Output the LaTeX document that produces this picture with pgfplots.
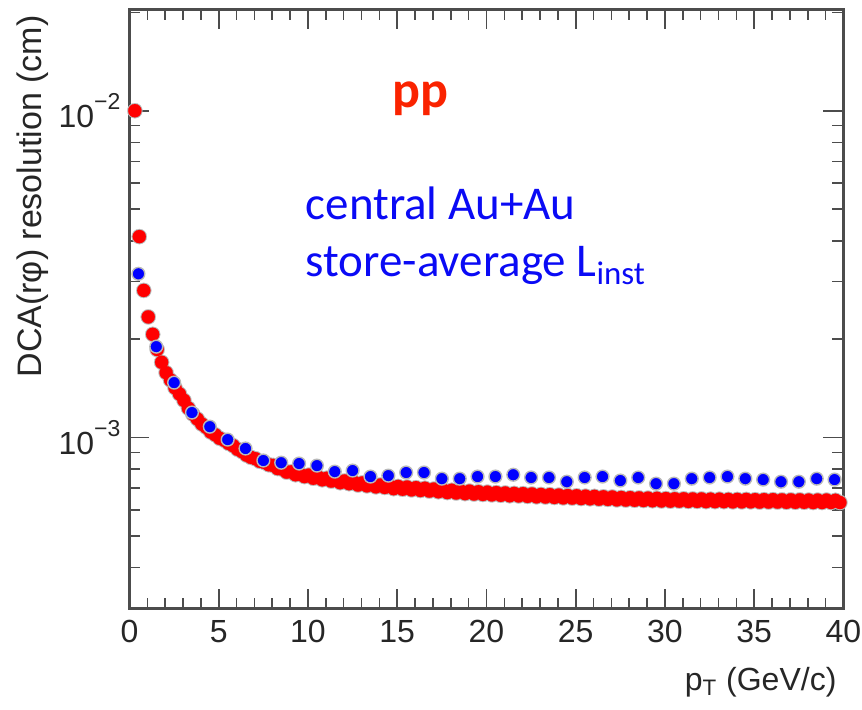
\documentclass[border=0pt]{standalone}
\usepackage{pgfplots}
\usepackage{pgfplotstable}
\pgfplotsset{compat=1.18}
\usepackage{fontspec}
\setmainfont{Liberation Sans}
\newfontfamily\calibri{Carlito}
\definecolor{ppred}{RGB}{250,35,0}
\definecolor{mred}{RGB}{255,0,0}
\definecolor{mblue}{RGB}{0,0,255}
\definecolor{txtblue}{RGB}{10,10,245}
\definecolor{halo}{RGB}{185,185,185}
\newcommand{\sups}[1]{\raisebox{0.55em}{\fontsize{11.5}{12}\selectfont #1}}
\pgfplotstableread{
pt val
0.30 10.0e-3
0.55 4.12e-3
0.80 2.82e-3
1.05 2.34e-3
1.30 2.07e-3
1.55 1.86e-3
1.80 1.70e-3
2.05 1.58e-3
2.30 1.50e-3
2.55 1.42e-3
2.80 1.36e-3
3.05 1.30e-3
3.30 1.23e-3
3.55 1.18e-3
3.80 1.14e-3
4.05 1.10e-3
4.30 1.075e-3
4.55 1.04e-3
4.80 1.02e-3
5.05 0.995e-3
5.30 0.982e-3
5.55 0.960e-3
5.80 0.945e-3
6.05 0.921e-3
6.30 0.906e-3
6.55 0.884e-3
6.80 0.870e-3
7.05 0.862e-3
7.30 0.846e-3
7.55 0.840e-3
7.80 0.826e-3
8.05 0.822e-3
8.30 0.804e-3
8.55 0.801e-3
8.80 0.784e-3
9.05 0.786e-3
9.30 0.770e-3
9.55 0.774e-3
9.80 0.760e-3
10.05 0.768e-3
10.30 0.751e-3
10.55 0.759e-3
10.80 0.743e-3
11.05 0.751e-3
11.30 0.736e-3
11.55 0.744e-3
11.80 0.728e-3
12.05 0.737e-3
12.30 0.723e-3
12.55 0.732e-3
12.80 0.716e-3
13.05 0.727e-3
13.30 0.712e-3
13.55 0.722e-3
13.80 0.707e-3
14.05 0.716e-3
14.30 0.704e-3
14.55 0.713e-3
14.80 0.698e-3
15.05 0.709e-3
15.30 0.695e-3
15.55 0.706e-3
15.80 0.692e-3
16.05 0.703e-3
16.30 0.689e-3
16.55 0.700e-3
16.80 0.686e-3
17.05 0.696e-3
17.30 0.683e-3
17.55 0.693e-3
17.80 0.679e-3
18.05 0.690e-3
18.30 0.677e-3
18.55 0.687e-3
18.80 0.674e-3
19.05 0.686e-3
19.30 0.672e-3
19.55 0.683e-3
19.80 0.670e-3
20.05 0.681e-3
20.30 0.668e-3
20.55 0.679e-3
20.80 0.666e-3
21.05 0.677e-3
21.30 0.664e-3
21.55 0.675e-3
21.80 0.663e-3
22.05 0.674e-3
22.30 0.661e-3
22.55 0.672e-3
22.80 0.659e-3
23.05 0.670e-3
23.30 0.658e-3
23.55 0.669e-3
23.80 0.656e-3
24.05 0.667e-3
24.30 0.654e-3
24.55 0.665e-3
24.80 0.653e-3
25.05 0.664e-3
25.30 0.651e-3
25.55 0.662e-3
25.80 0.650e-3
26.05 0.661e-3
26.30 0.648e-3
26.55 0.659e-3
26.80 0.647e-3
27.05 0.658e-3
27.30 0.645e-3
27.55 0.656e-3
27.80 0.644e-3
28.05 0.655e-3
28.30 0.643e-3
28.55 0.654e-3
28.80 0.642e-3
29.05 0.653e-3
29.30 0.641e-3
29.55 0.652e-3
29.80 0.640e-3
30.05 0.651e-3
30.30 0.639e-3
30.55 0.650e-3
30.80 0.639e-3
31.05 0.650e-3
31.30 0.638e-3
31.55 0.649e-3
31.80 0.638e-3
32.05 0.649e-3
32.30 0.637e-3
32.55 0.648e-3
32.80 0.637e-3
33.05 0.648e-3
33.30 0.637e-3
33.55 0.647e-3
33.80 0.636e-3
34.05 0.647e-3
34.30 0.636e-3
34.55 0.647e-3
34.80 0.636e-3
35.05 0.646e-3
35.30 0.635e-3
35.55 0.646e-3
35.80 0.635e-3
36.05 0.646e-3
36.30 0.635e-3
36.55 0.645e-3
36.80 0.634e-3
37.05 0.645e-3
37.30 0.634e-3
37.55 0.645e-3
37.80 0.634e-3
38.05 0.644e-3
38.30 0.633e-3
38.55 0.644e-3
38.80 0.633e-3
39.05 0.644e-3
39.30 0.633e-3
39.55 0.643e-3
39.80 0.633e-3
}\ppdata
\pgfplotstableread{
pt val
0.5 3.17e-3
1.5 1.898e-3
2.5 1.473e-3
3.5 1.193e-3
4.5 1.080e-3
5.5 0.986e-3
6.5 0.926e-3
7.5 0.851e-3
8.5 0.838e-3
9.5 0.833e-3
10.5 0.821e-3
11.5 0.787e-3
12.5 0.793e-3
13.5 0.760e-3
14.5 0.765e-3
15.5 0.782e-3
16.5 0.782e-3
17.5 0.749e-3
18.5 0.749e-3
19.5 0.760e-3
20.5 0.760e-3
21.5 0.770e-3
22.5 0.755e-3
23.5 0.755e-3
24.5 0.733e-3
25.5 0.755e-3
26.5 0.760e-3
27.5 0.739e-3
28.5 0.755e-3
29.5 0.723e-3
30.5 0.723e-3
31.5 0.749e-3
32.5 0.755e-3
33.5 0.760e-3
34.5 0.749e-3
35.5 0.744e-3
36.5 0.733e-3
37.5 0.733e-3
38.5 0.749e-3
39.5 0.744e-3
}\aadata
\begin{document}
\begin{tikzpicture}
\useasboundingbox (-64.75pt,-50.25pt) rectangle (366.25pt,304.25pt);
\begin{axis}[
  at={(0,0)}, anchor=south west,
  scale only axis,
  width=357pt, height=299.5pt,
  xmin=0, xmax=40,
  ymode=log, ymin=3.0e-4, ymax=0.0204,
  xtick={0,5,...,40},
  minor x tick num=4,
  ytick={0.001,0.01},
  yticklabels={10\sups{−3},10\sups{−2}},
  minor ytick={0.0003,0.0004,0.0005,0.0006,0.0007,0.0008,0.0009,0.002,0.003,0.004,0.005,0.006,0.007,0.008,0.009,0.02},
  tick align=inside,
  major tick length=10pt,
  minor tick length=5.5pt,
  axis line style={black!70, line width=1.1pt},
  every tick/.style={black!70, line width=0.8pt},
  /pgf/number format/assume math mode=true,
  tick label style={font=\fontsize{16}{18}\selectfont, black!85},
  xticklabel style={yshift=-2.5pt},
  yticklabel style={xshift=-1pt},
  xlabel={p\textsubscript{T} (GeV/c)},
  ylabel={DCA(rφ) resolution (cm)},
  xlabel style={font=\fontsize{16}{18}\selectfont, black!85, at={(axis description cs:1,-0.137)}, anchor=base east},
  ylabel style={font=\fontsize{17}{20}\selectfont, black!85, at={(axis description cs:-0.1238,0.688)}, anchor=base},
]
% grey halo under the pp band
\addplot[color=halo, only marks, mark=*, mark size=3.8pt, mark options={fill=halo, draw=halo, line width=0.1pt}] table[x=pt,y=val] {\ppdata};
\addplot[color=mred, only marks, mark=*, mark size=3.3pt, mark options={fill=mred, draw=mred, line width=0.1pt}] table[x=pt,y=val] {\ppdata};
% central Au+Au
\addplot[color=halo, only marks, mark=*, mark size=3.2pt, mark options={fill=mblue, draw=halo, line width=0.7pt}] table[x=pt,y=val] {\aadata};
\node[anchor=base west, inner sep=0pt, text=ppred, font=\calibri\bfseries\fontsize{26}{30}\selectfont] at (axis cs:14.7,1.02e-2) {pp};
\node[anchor=base west, inner sep=0pt, text=txtblue, font=\calibri\fontsize{23.5}{28}\selectfont] at (axis cs:9.85,4.64e-3) {central Au+Au};
\node[anchor=base west, inner sep=0pt, text=txtblue, font=\calibri\fontsize{23.5}{28}\selectfont] at (axis cs:9.85,3.11e-3) {store-average L\textsubscript{inst}};
\end{axis}
\end{tikzpicture}
\end{document}
